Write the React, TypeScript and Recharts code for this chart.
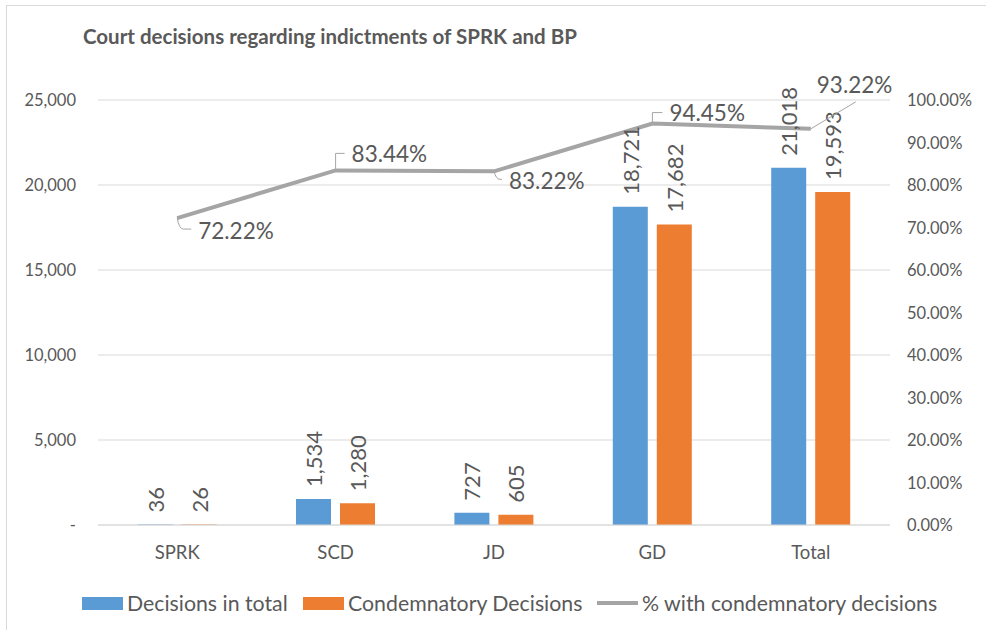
import { Bar, CartesianGrid, ComposedChart, LabelList, Line, XAxis, YAxis } from 'recharts';

const categories = ['SPRK', 'SCD', 'JD', 'GD', 'Total'];
const decisionsTotal = [36, 1534, 727, 18721, 21018];
const condemnatory = [26, 1280, 605, 17682, 19593];
const pctCondemnatory = [72.22, 83.44, 83.22, 94.45, 93.22];
const leftTicks = [0, 5000, 10000, 15000, 20000, 25000];
const rightTicks = [0, 10, 20, 30, 40, 50, 60, 70, 80, 90, 100];

const chartData = categories.map((name, i) => ({
  name,
  total: decisionsTotal[i],
  condemnatory: condemnatory[i],
  pct: pctCondemnatory[i],
}));

const FONT = 'Lato, "Noto Sans", sans-serif';
const TEXT = '#595959';
const BLUE = '#5B9BD5';
const ORANGE = '#ED7D31';
const GREY = '#A5A5A5';

// where each % label sits relative to its point, and the shape of its leader line
const pctLabelPlacement = [
  { dx: 21, dy: 12, leader: 'down' },
  { dx: 16, dy: -17, leader: 'up' },
  { dx: 15, dy: 9, leader: 'down' },
  { dx: 17, dy: -11, leader: 'up' },
  { dx: 6, dy: -44, leader: 'diag' },
];

const fmtCount = (v: number) => v.toLocaleString('en-US');

const BarValueLabel = (props: any) => {
  const x = Number(props.x);
  const y = Number(props.y);
  const w = Number(props.width);
  return (
    <text
      transform={`translate(${x + w / 2},${y - 12}) rotate(-90)`}
      textAnchor='start'
      dominantBaseline='central'
      fontSize={22}
      fill={TEXT}
    >
      {fmtCount(props.value)}
    </text>
  );
};

const PctLabel = (props: any) => {
  const x = Number(props.x);
  const y = Number(props.y);
  const p = pctLabelPlacement[props.index] || { dx: 10, dy: -12, leader: 'none' };
  let leader = '';
  if (p.leader === 'up') leader = `M${x},${y} L${x},${y + p.dy} L${x + p.dx - 7},${y + p.dy}`;
  if (p.leader === 'down') leader = `M${x},${y} Q${x + 2},${y + p.dy - 1} ${x + 6},${y + p.dy - 1} L${x + p.dx - 7},${y + p.dy - 1}`;
  if (p.leader === 'diag') leader = `M${x},${y} L${x + 45},${y - 27}`;
  return (
    <g>
      {leader && <path d={leader} stroke={GREY} strokeWidth={1} fill='none' />}
      <text x={x + p.dx} y={y + p.dy} dominantBaseline='central' fontSize={22.5} fill={TEXT}>
        {Number(props.value).toFixed(2)}%
      </text>
    </g>
  );
};

const LeftTick = (props: any) => (
  <text x={76} y={props.y} textAnchor='end' dominantBaseline='central' fontSize={16.5} fill={TEXT}>
    {props.payload.value === 0 ? '-' : fmtCount(props.payload.value)}
  </text>
);

const RightTick = (props: any) => (
  <text x={907} y={props.y} textAnchor='start' dominantBaseline='central' fontSize={16.5} fill={TEXT}>
    {Number(props.payload.value).toFixed(2)}%
  </text>
);

const CategoryTick = (props: any) => (
  <text x={props.x} y={552} textAnchor='middle' dominantBaseline='central' fontSize={18.5} fill={TEXT}>
    {props.payload.value}
  </text>
);

const legendItems = [
  { label: 'Decisions in total', color: BLUE, kind: 'box', x: 82 },
  { label: 'Condemnatory Decisions', color: ORANGE, kind: 'box', x: 303 },
  { label: '% with condemnatory decisions', color: GREY, kind: 'line', x: 597 },
];

export default function App() {
  return (
    <div
      style={{
        position: 'absolute',
        left: 0,
        top: 0,
        width: 986,
        height: 630,
        background: '#fff',
        fontFamily: FONT,
        overflow: 'hidden',
      }}
    >
      <div
        style={{
          position: 'absolute',
          left: 6,
          top: 5,
          width: 1000,
          height: 700,
          border: '1px solid #D9D9D9',
        }}
      />
      <div
        style={{
          position: 'absolute',
          left: 83,
          top: 24,
          fontSize: 20.5,
          fontWeight: 700,
          color: TEXT,
          whiteSpace: 'nowrap',
        }}
      >
        Court decisions regarding indictments of SPRK and BP
      </div>
      <ComposedChart
        width={986}
        height={630}
        data={chartData}
        margin={{ top: 100, right: 0, bottom: 65, left: 0 }}
        barCategoryGap='25%'
        barGap={9}
        style={{ position: 'absolute', left: 0, top: 0 }}
      >
        <CartesianGrid vertical={false} stroke='#D9D9D9' yAxisId='count' />
        <XAxis
          dataKey='name'
          height={40}
          axisLine={{ stroke: '#D9D9D9' }}
          tickLine={false}
          tick={<CategoryTick />}
        />
        <YAxis
          yAxisId='count'
          width={98}
          domain={[0, 25000]}
          ticks={leftTicks}
          axisLine={false}
          tickLine={false}
          tick={<LeftTick />}
        />
        <YAxis
          yAxisId='pct'
          orientation='right'
          width={96}
          domain={[0, 100]}
          ticks={rightTicks}
          axisLine={false}
          tickLine={false}
          tick={<RightTick />}
        />
        <Bar yAxisId='count' dataKey='total' fill={BLUE} isAnimationActive={false}>
          <LabelList dataKey='total' content={<BarValueLabel />} />
        </Bar>
        <Bar yAxisId='count' dataKey='condemnatory' fill={ORANGE} isAnimationActive={false}>
          <LabelList dataKey='condemnatory' content={<BarValueLabel />} />
        </Bar>
        <Line
          yAxisId='pct'
          type='linear'
          dataKey='pct'
          stroke={GREY}
          strokeWidth={4}
          dot={false}
          isAnimationActive={false}
        >
          <LabelList dataKey='pct' content={<PctLabel />} />
        </Line>
      </ComposedChart>
      {legendItems.map((it) => (
        <div
          key={it.label}
          style={{
            position: 'absolute',
            left: it.x,
            top: 589,
            height: 28,
            display: 'flex',
            alignItems: 'center',
            fontSize: 21.3,
            color: TEXT,
            whiteSpace: 'nowrap',
          }}
        >
          <span
            style={{
              display: 'inline-block',
              width: 41,
              height: it.kind === 'box' ? 13 : 4,
              background: it.color,
              marginRight: 4,
            }}
          />
          {it.label}
        </div>
      ))}
    </div>
  );
}
